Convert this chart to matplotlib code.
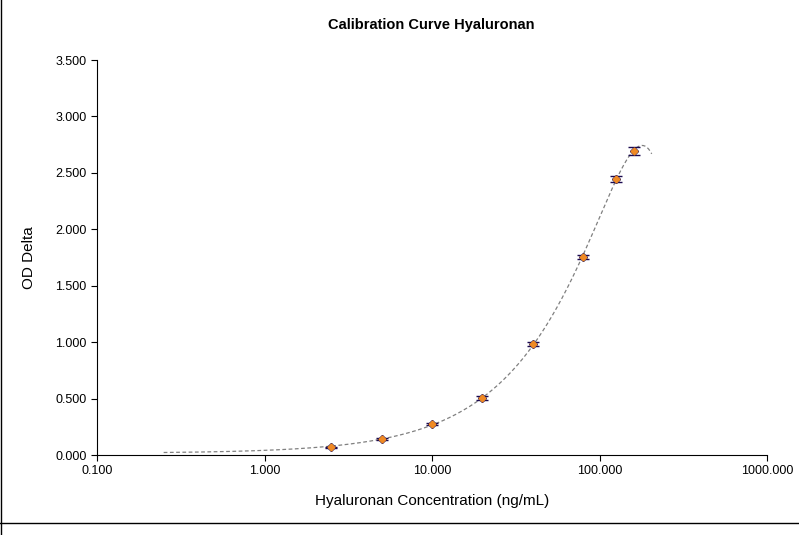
import numpy as np
import matplotlib
matplotlib.use("Agg")
import matplotlib.pyplot as plt
plt.rcParams['font.family'] = ['Liberation Sans', 'DejaVu Sans']

conc = [2.5, 5, 10, 20, 40, 80, 125, 160]
od_mean = [0.07, 0.14, 0.275, 0.505, 0.985, 1.755, 2.445, 2.695]
od_err = [0.005, 0.008, 0.01, 0.015, 0.02, 0.02, 0.03, 0.035]

fig = plt.figure(figsize=(7.99, 5.35), dpi=100)
ax = fig.add_axes([97/799, 1-455/535, (767-97)/799, (455-60)/535])

coef = np.polyfit(conc, od_mean, 3)
xs = np.logspace(np.log10(0.25), np.log10(205), 300)
ax.plot(xs, np.polyval(coef, xs), ls=(0, (3, 2)), color="#808080", lw=0.9, zorder=1)
ax.errorbar(conc, od_mean, yerr=od_err, fmt="D", color="#1a0a50", ms=4, capsize=4, lw=1, zorder=2)
ax.plot(conc, od_mean, "D", color="#f08a24", ms=3.5, zorder=3)

ax.set_xscale("log")
ax.set_xlim(0.1, 1000)
ax.set_ylim(0, 3.5)
ax.set_xticks([0.1, 1, 10, 100, 1000])
ax.set_xticklabels(["0.100", "1.000", "10.000", "100.000", "1000.000"])
ax.minorticks_off()
ax.set_yticks(np.arange(0, 3.51, 0.5))
ax.set_yticklabels([f"{v:.3f}" for v in np.arange(0, 3.51, 0.5)])
for s in ["top", "right"]:
    ax.spines[s].set_visible(False)
ax.tick_params(labelsize=9, length=4, direction="out")
ax.set_xlabel("Hyaluronan Concentration (ng/mL)", fontsize=11, labelpad=12)
ax.set_ylabel("OD Delta", fontsize=11, labelpad=14)
fig.text(0.54, 1-25/535, "Calibration Curve Hyaluronan", ha="center", va="center", fontsize=10.5, fontweight="bold")
fig.add_artist(plt.Line2D([0.5/799, 0.5/799], [0, 1], color="black", lw=1, transform=fig.transFigure))
fig.add_artist(plt.Line2D([0, 1], [1-523/535, 1-523/535], color="black", lw=1, transform=fig.transFigure))
fig.savefig("out.png", dpi=100)
